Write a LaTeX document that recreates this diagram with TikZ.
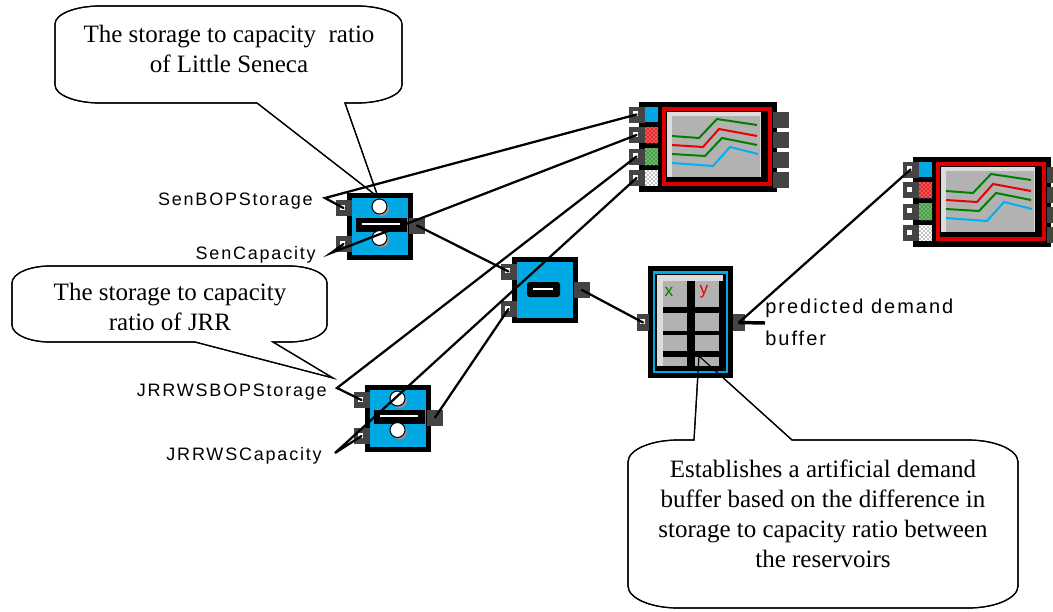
\documentclass[tikz,border=0pt]{standalone}
\usepackage{fontspec}
\setmainfont{Liberation Serif}
\newfontfamily\labfont[LetterSpace=10]{Liberation Sans}
\newfontfamily\sansplain{Liberation Sans}
\usetikzlibrary{patterns}
\definecolor{boxblue}{RGB}{0,168,228}
\definecolor{portgrey}{RGB}{68,68,68}
\definecolor{plotgrey}{RGB}{178,178,178}
\definecolor{bevelgrey}{RGB}{220,220,220}
\definecolor{framered}{RGB}{222,0,0}
\definecolor{lnred}{RGB}{235,0,0}
\definecolor{lngreen}{RGB}{0,128,0}
\definecolor{lnblue}{RGB}{0,176,240}
\definecolor{swred}{RGB}{230,40,40}
\definecolor{swgreen}{RGB}{70,160,70}
\definecolor{knobshadow}{RGB}{150,150,150}
\tikzset{
  wire/.style={line width=1.7pt, black, line cap=round},
  callout/.style={draw=black, line width=0.9pt, fill=white},
  calloutline/.style={draw=black, line width=0.9pt},
  ctext/.style={font={\fontsize{18.75}{22.5}\selectfont}, align=center, inner sep=0pt},
  lab/.style={font={\labfont\fontsize{13.5}{16}\selectfont}, inner sep=0pt},
  labbig/.style={font={\labfont\fontsize{15}{18}\selectfont}, inner sep=0pt},
  plotline/.style={line width=1.5pt},
}
\newcommand{\inport}[3]{%
  \fill[portgrey] ({#2-8},{#3-8}) rectangle ({#2+8},{#3+8});
  \fill[white] ({#2-3.5},{#3-3.5}) rectangle ({#2+1.5},{#3+1.5});
  \coordinate (#1) at (#2,#3);}
\newcommand{\outport}[3]{%
  \fill[portgrey] ({#2-8},{#3-8}) rectangle ({#2+8},{#3+8});
  \coordinate (#1) at (#2,#3);}
\newcommand{\knob}[2]{%
  \fill[knobshadow] ({#1+2},{#2+2}) circle[radius=7.5];
  \filldraw[fill=white, draw=black, line width=0.8pt] (#1,#2) circle[radius=7.5];}
\newcommand{\divbox}[3]{%
  \fill[black] (#2,#3) rectangle ({#2+66},{#3+67});
  \fill[boxblue] ({#2+5},{#3+5}) rectangle ({#2+61},{#3+62});
  \inport{#1in1}{#2-3.5}{#3+15}
  \inport{#1in2}{#2-3.5}{#3+51}
  \outport{#1out}{#2+70}{#3+32.5}
  \knob{#2+32.5}{#3+13.5}
  \fill[black] ({#2+9},{#3+25}) rectangle ({#2+60},{#3+39});
  \draw[white, line width=1.2pt] ({#2+15},{#3+31}) -- ({#2+53},{#3+31});
  \knob{#2+32.5}{#3+45}}
\newcommand{\subbox}[3]{%
  \fill[black] (#2,#3) rectangle ({#2+66},{#3+66});
  \fill[boxblue] ({#2+5},{#3+5}) rectangle ({#2+61},{#3+61});
  \inport{#1in1}{#2-3.5}{#3+14.5}
  \inport{#1in2}{#2-3.5}{#3+52}
  \outport{#1out}{#2+70}{#3+33}
  \fill[black, rounded corners=2pt] ({#2+15},{#3+25}) rectangle ({#2+48},{#3+40});
  \draw[white, line width=1.2pt] ({#2+21},{#3+32}) -- ({#2+41},{#3+32});}
\newcommand{\chartbox}[3]{%
  \fill[black] (#2,#3) rectangle ({#2+138},{#3+90});
  \fill[boxblue] ({#2+6},{#3+5}) rectangle ({#2+19},{#3+20});
  \fill[swred] ({#2+6},{#3+25}) rectangle ({#2+19},{#3+41});
  \fill[pattern=crosshatch dots, pattern color=white] ({#2+6},{#3+25}) rectangle ({#2+19},{#3+41});
  \fill[swgreen] ({#2+6},{#3+46}) rectangle ({#2+19},{#3+63});
  \fill[pattern=crosshatch dots, pattern color=white] ({#2+6},{#3+46}) rectangle ({#2+19},{#3+63});
  \fill[white] ({#2+6},{#3+68}) rectangle ({#2+19},{#3+84});
  \fill[pattern=crosshatch dots, pattern color=black] ({#2+6},{#3+68}) rectangle ({#2+19},{#3+84});
  \inport{#1in1}{#2-2.5}{#3+12.5}
  \inport{#1in2}{#2-2.5}{#3+33}
  \inport{#1in3}{#2-2.5}{#3+54.5}
  \inport{#1in4}{#2-2.5}{#3+76}
  \outport{#1out1}{#2+141.5}{#3+17.5}
  \outport{#1out2}{#2+141.5}{#3+38}
  \outport{#1out3}{#2+141.5}{#3+58}
  \outport{#1out4}{#2+141.5}{#3+77.5}
  \fill[framered] ({#2+23},{#3+5}) rectangle ({#2+133},{#3+84});
  \fill[black] ({#2+27},{#3+9}) rectangle ({#2+129},{#3+80});
  \fill[bevelgrey] ({#2+28},{#3+10}) rectangle ({#2+122},{#3+75});
  \fill[plotgrey] ({#2+33},{#3+14}) rectangle ({#2+121},{#3+75});
  \draw[plotline, lngreen] ({#2+33},{#3+34}) -- ({#2+60},{#3+36}) -- ({#2+78},{#3+17}) -- ({#2+118},{#3+23});
  \draw[plotline, lnred] ({#2+33},{#3+43}) -- ({#2+64},{#3+45}) -- ({#2+80},{#3+27}) -- ({#2+118},{#3+34});
  \draw[plotline, lngreen] ({#2+33},{#3+52}) -- ({#2+66},{#3+54}) -- ({#2+83},{#3+36}) -- ({#2+118},{#3+43});
  \draw[plotline, lnblue] ({#2+33},{#3+61}) -- ({#2+74},{#3+64}) -- ({#2+91},{#3+45}) -- ({#2+119},{#3+52});}
\newcommand{\calloutB}[8]{%
  \path[#1] (#6,#5) -- (#8) -- (#7,#5)
   -- ({#4-\crx},#5) .. controls ({#4-0.45*\crx},#5) and (#4,{#5-0.45*\cry}) .. (#4,{#5-\cry})
   -- (#4,{#3+\cry}) .. controls (#4,{#3+0.45*\cry}) and ({#4-0.45*\crx},#3) .. ({#4-\crx},#3)
   -- ({#2+\crx},#3) .. controls ({#2+0.45*\crx},#3) and (#2,{#3+0.45*\cry}) .. (#2,{#3+\cry})
   -- (#2,{#5-\cry}) .. controls (#2,{#5-0.45*\cry}) and ({#2+0.45*\crx},#5) .. ({#2+\crx},#5)
   -- cycle;}
\newcommand{\calloutT}[8]{%
  \path[#1] (#6,#3) -- (#8) -- (#7,#3)
   -- ({#4-\crx},#3) .. controls ({#4-0.45*\crx},#3) and (#4,{#3+0.45*\cry}) .. (#4,{#3+\cry})
   -- (#4,{#5-\cry}) .. controls (#4,{#5-0.45*\cry}) and ({#4-0.45*\crx},#5) .. ({#4-\crx},#5)
   -- ({#2+\crx},#5) .. controls ({#2+0.45*\crx},#5) and (#2,{#5-0.45*\cry}) .. (#2,{#5-\cry})
   -- (#2,{#3+\cry}) .. controls (#2,{#3+0.45*\cry}) and ({#2+0.45*\crx},#3) .. ({#2+\crx},#3)
   -- cycle;}
\begin{document}
\begin{tikzpicture}[x=0.75pt,y=-0.75pt]
\useasboundingbox[fill=white] (0,0) rectangle (1053,611);
\coordinate (tip1) at (378,197);
\coordinate (tip2) at (333,378);
\coordinate (tip3) at (699,356);
% callout bodies
\def\crx{45}\def\cry{18}
\calloutB{callout}{55}{6}{402}{103}{257}{345}{tip1}
\def\crx{38}\def\cry{17}
\calloutB{callout}{12}{266}{327}{342}{195}{273}{tip2}
\def\crx{50}\def\cry{22}
\calloutT{callout}{628}{440}{1018}{608}{694}{792}{tip3}
% widgets
\divbox{d1}{347}{193}
\divbox{d2}{365}{385}
\subbox{s}{512}{257}
\chartbox{ca}{639}{102}
\chartbox{cb}{913}{157}
% table
\fill[black] (648,266) rectangle (733,378);
\draw[boxblue, line width=1.6pt] (654,272.5) rectangle (727,372);
\fill[bevelgrey] (657,275) rectangle (723,281);
\fill[bevelgrey] (657,275) rectangle (663,366);
\foreach \ya/\yb in {281/307, 313/331, 335/351, 357/366}{
  \fill[plotgrey] (663,\ya) rectangle (687,\yb);
  \fill[plotgrey] (695,\ya) rectangle (719,\yb);
}
\node[font={\sansplain\fontsize{13}{15}\selectfont}, text=lngreen, inner sep=0pt] (tx) at (669,292) {x};
\node[font={\sansplain\fontsize{13}{15}\selectfont}, text=lnred, inner sep=0pt] (ty) at (704,292) {y};
\fill[portgrey] (637,314) rectangle (649,331);
\fill[white] (640,319) rectangle (645,324);
\coordinate (tin) at (643,322.5);
\fill[portgrey] (733,314) rectangle (745,331);
\coordinate (tout) at (739,322.5);
% labels
\node[lab, anchor=base east] (lSB) at (313,205) {SenBOPStorage};
\node[lab, anchor=base east] (lSC) at (316,259) {SenCapacity};
\node[lab, anchor=base east] (lJB) at (327,396) {JRRWSBOPStorage};
\node[lab, anchor=base east] (lJC) at (322,460) {JRRWSCapacity};
\node[labbig, anchor=base west] (lPD) at (765,313) {predicted demand};
\node[labbig, anchor=base west] (lBF) at (765,345) {buffer};
\coordinate (v1) at (325,198);
\coordinate (v2) at (331,253);
\coordinate (v3) at (337,388);
\coordinate (v4) at (335,453);
\coordinate (pdb) at (765,323);
% wires
\draw[wire] (cain1) -- (v1) -- (d1in1);
\draw[wire] (cain2) -- (v2) -- (d1in2);
\draw[wire] (cain3) -- (v3) -- (d2in1);
\draw[wire] (cain4) -- (v4) -- (d2in2);
\draw[wire] (d1out) -- (sin1);
\draw[wire] (d2out) -- (sin2);
\draw[wire] (sout) -- (tin);
\draw[wire] (tout) -- (cbin1);
\draw[black, line width=2.6pt] (tout) -- (pdb);
% callout outlines on top
\def\crx{45}\def\cry{18}
\calloutB{calloutline}{55}{6}{402}{103}{257}{345}{tip1}
\def\crx{38}\def\cry{17}
\calloutB{calloutline}{12}{266}{327}{342}{195}{273}{tip2}
\def\crx{50}\def\cry{22}
\calloutT{calloutline}{628}{440}{1018}{608}{694}{792}{tip3}
% callout texts (base = baseline of last line)
\node[ctext, anchor=base] (c1) at (229,72) {The storage to capacity\ \ ratio\\of Little Seneca};
\node[ctext, anchor=base] (c2) at (170,330) {The storage to capacity\\ratio of JRR};
\node[ctext, anchor=base] (c3) at (823,567) {Establishes a artificial demand\\buffer based on the difference in\\storage to capacity ratio between\\the reservoirs};
\end{tikzpicture}
\end{document}
